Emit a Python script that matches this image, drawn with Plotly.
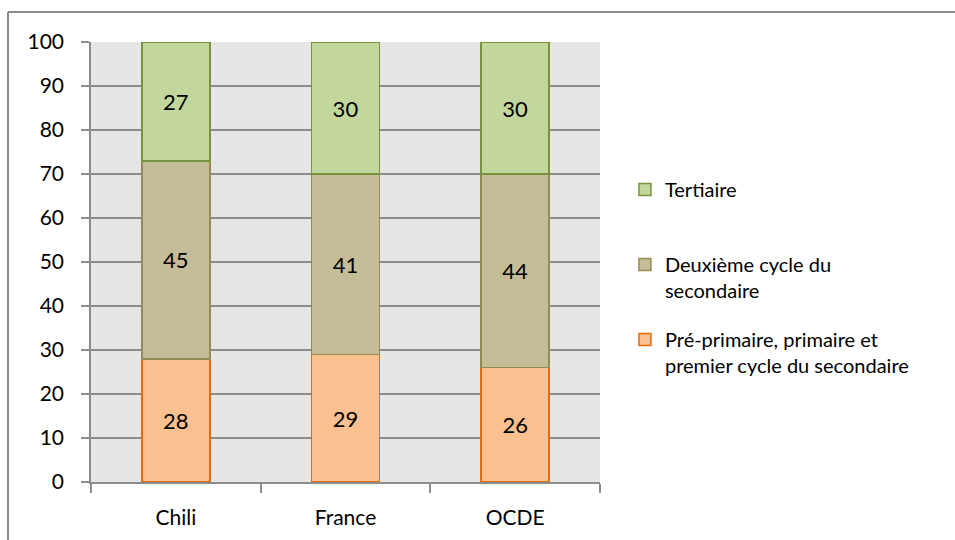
import plotly.graph_objects as go

categories = ["Chili", "France", "OCDE"]
pre_primaire = [28, 29, 26]
deuxieme = [45, 41, 44]
tertiaire = [27, 30, 30]
series_names = ["Pré-primaire, primaire et<br>premier cycle du secondaire",
                "Deuxième cycle du<br>secondaire",
                "Tertiaire<br>&nbsp;"]
y_ticks = [0, 10, 20, 30, 40, 50, 60, 70, 80, 90, 100]

fills = ["#fac090", "#c4bd97", "#c3d69b"]
borders = ["#e46c0a", "#948a54", "#77933c"]
ranks = [3, 2, 1]

FONT = "Lato, 'Open Sans', sans-serif"

fig = go.Figure()
for name, vals, fc, bc, rk in zip(series_names, [pre_primaire, deuxieme, tertiaire], fills, borders, ranks):
    fig.add_trace(go.Bar(
        x=categories, y=vals, name=name,
        marker=dict(color=fc, line=dict(color=bc, width=1.5)),
        width=0.4,
        text=vals, texttemplate="%{text}", textposition="inside",
        insidetextanchor="middle",
        textfont=dict(color="black", size=22, family=FONT),
        legendgroup=name, legendrank=rk,
    ))

fig.update_layout(
    barmode="stack",
    width=955, height=540,
    margin=dict(l=91, r=355, t=42, b=58),
    paper_bgcolor="white",
    plot_bgcolor="#e6e6e6",
    font=dict(family=FONT, size=21, color="black"),
    showlegend=True,
    legend=dict(
        traceorder="grouped",
        tracegroupgap=20,
        valign="top",
        x=1.049, xanchor="left",
        y=0.709, yanchor="top",
        font=dict(size=20, family=FONT),
        itemwidth=30,
        bgcolor="rgba(0,0,0,0)",
    ),
    xaxis=dict(
        showgrid=False,
        showline=True, linecolor="#8c8c8c", linewidth=1.5,
        ticks="outside", tickson="boundaries", ticklen=9, tickcolor="#8c8c8c", tickwidth=1.5,
        ticklabelstandoff=16,
        tickfont=dict(size=21),
    ),
    yaxis=dict(
        range=[0, 100],
        tickvals=y_ticks,
        showgrid=True, gridcolor="#8c8c8c", gridwidth=1.5,
        showline=True, linecolor="#8c8c8c", linewidth=1.5,
        ticks="outside", ticklen=8, tickcolor="#8c8c8c", tickwidth=1.5,
        ticklabelstandoff=13,
        tickfont=dict(size=21),
        zeroline=False,
    ),
    shapes=[
        dict(type="line", xref="paper", yref="paper",
             x0=(8 - 91) / 509, x1=(955 - 91) / 509, y0=(540 - 58 - 12) / 440, y1=(540 - 58 - 12) / 440,
             line=dict(color="#8c8c8c", width=2)),
        dict(type="line", xref="paper", yref="paper",
             x0=(8 - 91) / 509, x1=(8 - 91) / 509, y0=(540 - 58 - 12) / 440, y1=-58 / 440,
             line=dict(color="#8c8c8c", width=2)),
    ],
)

post = ("document.body.style.margin='0px';document.body.style.padding='0px';"
        "var s=document.createElement('style');s.textContent='text{font-variant-ligatures:none;}';"
        "document.head.appendChild(s);")
fig.write_html("out.html", post_script=post, config={"displayModeBar": False})
